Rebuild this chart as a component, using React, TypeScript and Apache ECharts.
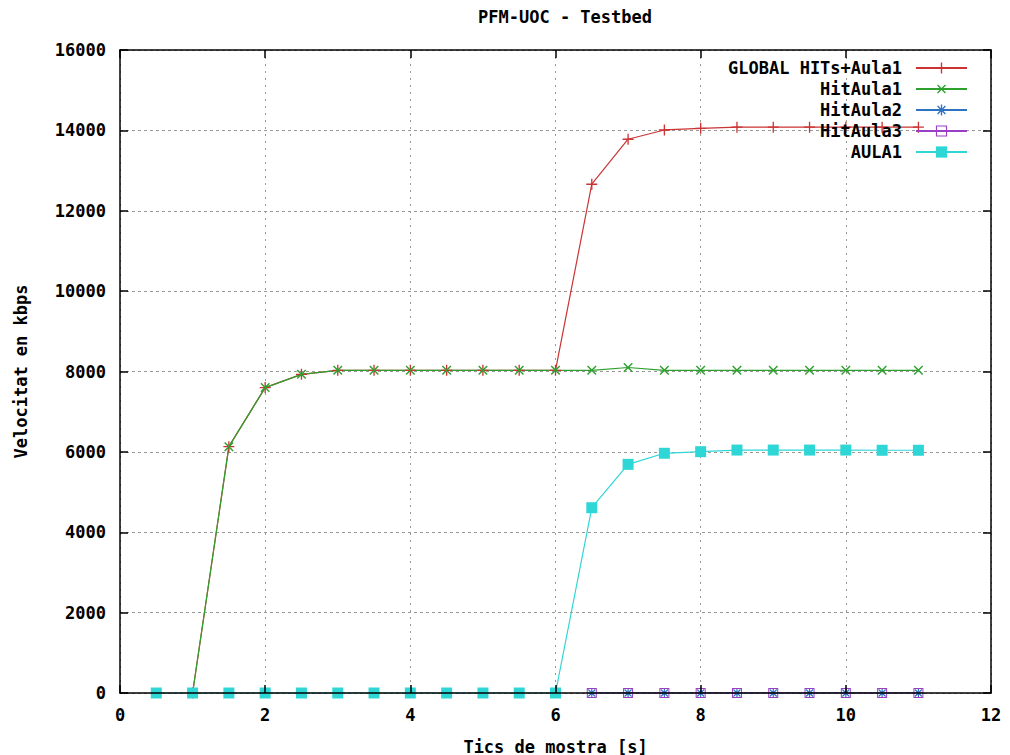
import React, { useEffect, useRef } from "react";
import * as echarts from "echarts";

// ---- data ----
const ticsMain = [1, 1.5, 2, 2.5, 3, 3.5, 4, 4.5, 5, 5.5, 6, 6.5, 7, 7.5, 8, 8.5, 9, 9.5, 10, 10.5, 11];
const globalHits = [0, 6130, 7600, 7930, 8030, 8030, 8030, 8030, 8030, 8030, 8030, 12660, 13780, 14010, 14050, 14080, 14080, 14080, 14080, 14080, 14080];
const hitAula1 = [0, 6130, 7600, 7930, 8030, 8030, 8030, 8030, 8030, 8030, 8030, 8030, 8100, 8030, 8030, 8030, 8030, 8030, 8030, 8030, 8030];
const ticsLast = [6.5, 7, 7.5, 8, 8.5, 9, 9.5, 10, 10.5, 11];
const hitAula2 = [0, 0, 0, 0, 0, 0, 0, 0, 0, 0];
const hitAula3 = [0, 0, 0, 0, 0, 0, 0, 0, 0, 0];
const ticsAll = [0.5, 1, 1.5, 2, 2.5, 3, 3.5, 4, 4.5, 5, 5.5, 6, 6.5, 7, 7.5, 8, 8.5, 9, 9.5, 10, 10.5, 11];
const aula1 = [0, 0, 0, 0, 0, 0, 0, 0, 0, 0, 0, 0, 4610, 5690, 5965, 6005, 6045, 6045, 6045, 6045, 6040, 6040];

const seriesNames = ["GLOBAL HITs+Aula1", "HitAula1", "HitAula2", "HitAula3", "AULA1"];
const xTicks = { min: 0, max: 12, interval: 2 };
const yTicks = { min: 0, max: 16000, interval: 2000 };

const zip = (xs: number[], ys: number[]) => xs.map((x, i) => [x, ys[i]]);

const FONT = "'DejaVu Sans Mono', 'Liberation Mono', monospace";

const PLUS = "path://M-0.6,-5h1.2v4.4h4.4v1.2h-4.4v4.4h-1.2v-4.4h-4.4v-1.2h4.4z";
const STAR =
  "path://M-0.6,-5h1.2v4.4h4.4v1.2h-4.4v4.4h-1.2v-4.4h-4.4v-1.2h4.4z M-3.08,-3.92L3.92,3.08L3.08,3.92L-3.92,-3.08z M-3.08,3.92L-3.92,3.08L3.08,-3.92L3.92,-3.08z";
const OPEN_SQ = "path://M-5,-5h10v10h-10z M-4,-4v8h8v-8z";

const RED = "#cc3333";
const GREEN = "#2ea02e";
const BLUE = "#2f72c0";
const PURPLE = "#9a3fc4";
const CYAN = "#2fd6d6";

export default function App() {
  const ref = useRef<HTMLDivElement>(null);
  useEffect(() => {
    if (!ref.current) return;
    const chart = echarts.init(ref.current, undefined, { renderer: "svg" });
    const labelStyle = { fontFamily: FONT, fontWeight: "bold" as const, fontSize: 17, color: "#000" };
    const gridLine = (type: number[]) => ({ show: true, lineStyle: { color: "#999", width: 1, type } });
    const mk = (name: string, data: number[][], color: string, symbol: string, size: number, rotate = 0) => ({
      name,
      type: "line",
      data,
      symbol,
      symbolSize: size,
      symbolRotate: rotate,
      showAllSymbol: true,
      lineStyle: { color, width: 1.2 },
      itemStyle: { color },
      emphasis: { disabled: true },
    });
    chart.setOption({
      animation: false,
      backgroundColor: "#fff",
      textStyle: { fontFamily: FONT },
      title: {
        text: "PFM-UOC - Testbed",
        left: 478,
        top: 8,
        padding: 0,
        textStyle: { ...labelStyle, fontSize: 17 },
      },
      grid: { left: 120, right: 19, top: 50, bottom: 62, containLabel: false, outerBoundsMode: "none" },
      legend: {
        orient: "vertical",
        right: 42,
        top: 59,
        align: "right",
        itemWidth: 51,
        itemHeight: 14,
        itemGap: 3,
        padding: 0,
        data: seriesNames,
        textStyle: { ...labelStyle, lineHeight: 18, padding: [0, 9, 0, 0] },
      },
      xAxis: [
        {
          type: "value",
          ...xTicks,
          position: "bottom",
          z: 5,
          axisLine: { show: true, onZero: false, lineStyle: { color: "#000", width: 1.5 } },
          axisTick: { show: true, inside: true, length: 8, lineStyle: { color: "#000", width: 1.5 } },
          axisLabel: { ...labelStyle, margin: 13, formatter: (v: number) => String(v) },
          splitLine: { show: false },
          name: "Tics de mostra [s]",
          nameLocation: "middle",
          nameGap: 45,
          nameTextStyle: labelStyle,
        },
        {
          type: "value",
          ...xTicks,
          position: "top",
          z: 0,
          axisLine: { show: true, onZero: false, lineStyle: { color: "#000", width: 1.5 } },
          axisTick: { show: true, inside: true, length: 8, lineStyle: { color: "#000", width: 1.5 } },
          axisLabel: { show: false },
          splitLine: gridLine([2, 5]),
        },
      ],
      yAxis: [
        {
          type: "value",
          ...yTicks,
          position: "left",
          z: 5,
          axisLine: { show: true, onZero: false, lineStyle: { color: "#000", width: 1.5 } },
          axisTick: { show: true, inside: true, length: 8, lineStyle: { color: "#000", width: 1.5 } },
          axisLabel: { ...labelStyle, margin: 14, formatter: (v: number) => String(v) },
          splitLine: { show: false },
          name: "Velocitat en kbps",
          nameLocation: "middle",
          nameGap: 91,
          nameTextStyle: labelStyle,
        },
        {
          type: "value",
          ...yTicks,
          position: "right",
          z: 0,
          axisLine: { show: true, onZero: false, lineStyle: { color: "#000", width: 1.5 } },
          axisTick: { show: true, inside: true, length: 8, lineStyle: { color: "#000", width: 1.5 } },
          axisLabel: { show: false },
          splitLine: gridLine([3, 3]),
        },
      ],
      series: [
        mk(seriesNames[0], zip(ticsMain, globalHits), RED, PLUS, 11),
        mk(seriesNames[1], zip(ticsMain, hitAula1), GREEN, PLUS, 12, 45),
        mk(seriesNames[2], zip(ticsLast, hitAula2), BLUE, STAR, 10),
        mk(seriesNames[3], zip(ticsLast, hitAula3), PURPLE, OPEN_SQ, 10),
        mk(seriesNames[4], zip(ticsAll, aula1), CYAN, "rect", 11),
      ],
    });
    return () => chart.dispose();
  }, []);
  return (
    <div
      ref={ref}
      style={{ position: "fixed", left: 0, top: 0, width: 1010, height: 755, background: "#fff" }}
    />
  );
}
